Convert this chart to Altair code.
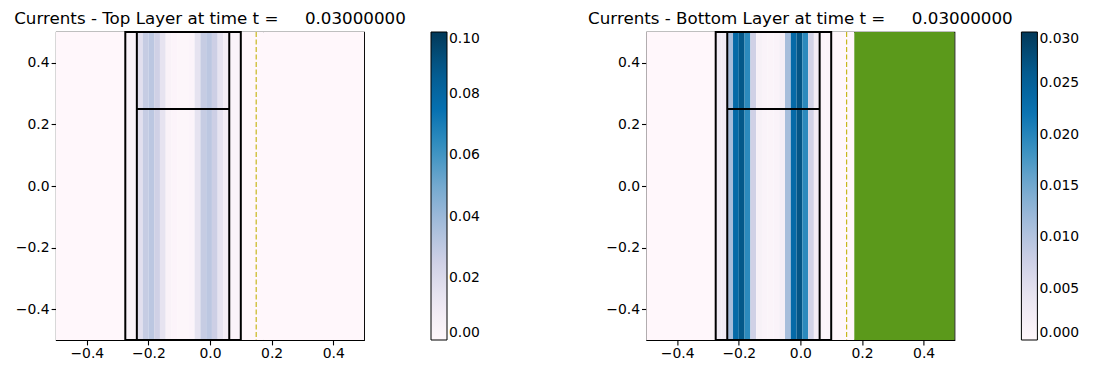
import altair as alt
import pandas as pd

# ---------------- data ----------------
# cell edges along x (stripes are uniform in y)
x_edges = [-0.5, -0.275, -0.25625, -0.2375, -0.21875, -0.2, -0.18125, -0.1625,
           -0.14375, -0.125, -0.10625, -0.0875, -0.06875, -0.05, -0.03125,
           -0.0125, 0.00625, 0.025, 0.04375, 0.0625, 0.08125, 0.1, 0.175, 0.5]

top_vals = [0.0, 0.003, 0.003, 0.017, 0.028, 0.031, 0.025, 0.015, 0.004, 0.002,
            0.001, 0.001, 0.002, 0.015, 0.028, 0.031, 0.026, 0.015, 0.008, 0.003,
            0.003, 0.0, 0.0]

bot_vals = [0.0, 0.0025, 0.0025, 0.0112, 0.0235, 0.0265, 0.0195, 0.0075, 0.0015,
            0.001, 0.0008, 0.001, 0.002, 0.0112, 0.0235, 0.0268, 0.0195, 0.0072,
            0.0025, 0.0005, 0.0005, 0.0, None]

green_span = [0.175, 0.5]
outer_box = [-0.275, 0.1]
inner_box = [-0.2375, 0.0625]
box_y = [-0.5, 0.5]
divider_y = [0.25]
dash_x = [0.15]
axis_ticks = [-0.4, -0.2, 0.0, 0.2, 0.4]
top_cbar_ticks = [0.0, 0.02, 0.04, 0.06, 0.08, 0.10]
bot_cbar_ticks = [0.0, 0.005, 0.010, 0.015, 0.020, 0.025, 0.030]
top_vmax = 0.1
bot_vmax = 0.03
NB = "\u00a0"
top_title = "Currents - Top Layer at time t =" + NB * 5 + "0.03000000"
bot_title = "Currents - Bottom Layer at time t =" + NB * 5 + "0.03000000"

PUBU = ["#fff7fb", "#ece7f2", "#d0d1e6", "#a6bddb", "#74a9cf",
        "#3690c0", "#0570b0", "#045a8d", "#023858"]
GREEN = "#5b991b"
DASH = "#c8b81e"
FONT = "DejaVu Sans"

W = 308
H = 308


def panel(vals, vmax, cticks, fmt, title, with_green):
    cells = pd.DataFrame({
        "x0": x_edges[:-1],
        "x1": x_edges[1:],
        "v": vals,
        "y0": box_y[0],
        "y1": box_y[1],
    })
    xs = alt.Scale(domain=[-0.5, 0.5], nice=False, zero=False)
    ys = alt.Scale(domain=[-0.5, 0.5], nice=False, zero=False)
    stops = [vmax * i / 8 for i in range(9)]
    cscale = alt.Scale(domain=stops, range=PUBU, interpolate="rgb", clamp=True)

    xax = alt.Axis(values=axis_ticks, format=".1f", title=None)
    yax = alt.Axis(values=axis_ticks, format=".1f", title=None)

    heat = alt.Chart(cells).transform_filter("isValid(datum.v)").mark_rect().encode(
        x=alt.X("x0:Q", scale=xs, axis=xax),
        x2="x1:Q",
        y=alt.Y("y0:Q", scale=ys, axis=yax),
        y2="y1:Q",
        color=alt.Color("v:Q", scale=cscale,
                        legend=alt.Legend(values=cticks, format=fmt, title=None,
                                          type="gradient")),
    )

    layers = [heat]
    if with_green:
        gdf = pd.DataFrame({"x0": [green_span[0]], "x1": [green_span[1]],
                            "y0": [box_y[0]], "y1": [box_y[1]]})
        green = alt.Chart(gdf).mark_rect(color=GREEN).encode(
            x=alt.X("x0:Q", scale=xs), x2="x1:Q",
            y=alt.Y("y0:Q", scale=ys), y2="y1:Q")
        layers.append(green)

    boxes = pd.DataFrame({"x0": [outer_box[0], inner_box[0]],
                          "x1": [outer_box[1], inner_box[1]],
                          "y0": [box_y[0], box_y[0]],
                          "y1": [box_y[1], box_y[1]]})
    outline = alt.Chart(boxes).mark_rect(filled=False, stroke="black",
                                         strokeWidth=2).encode(
        x=alt.X("x0:Q", scale=xs), x2="x1:Q",
        y=alt.Y("y0:Q", scale=ys), y2="y1:Q")
    layers.append(outline)

    hdf = pd.DataFrame({"x0": [inner_box[0]], "x1": [inner_box[1]], "y": divider_y})
    hline = alt.Chart(hdf).mark_rule(color="black", strokeWidth=2).encode(
        x=alt.X("x0:Q", scale=xs), x2="x1:Q", y=alt.Y("y:Q", scale=ys))
    layers.append(hline)

    ddf = pd.DataFrame({"x": dash_x})
    dash = alt.Chart(ddf).mark_rule(color=DASH, strokeWidth=1.2,
                                    strokeDash=[5, 2.5]).encode(
        x=alt.X("x:Q", scale=xs))
    layers.append(dash)

    return alt.layer(*layers).properties(
        width=W, height=H,
        title=alt.TitleParams(text=title, font=FONT, fontSize=16.7,
                              fontWeight="normal", color="black",
                              anchor="middle", frame="group", offset=3),
    )


left = panel(top_vals, top_vmax, top_cbar_ticks, ".2f", top_title, False)
right = panel(bot_vals, bot_vmax, bot_cbar_ticks, ".3f", bot_title, True)

chart = alt.hconcat(left, right, spacing=282.4, bounds="flush").resolve_scale(
    color="independent"
).properties(
    padding={"left": 5, "top": 2, "right": 5, "bottom": 5},
    background="white",
).configure_view(
    stroke="black", strokeWidth=1.1
).configure_axis(
    grid=False, domain=False, labelFont=FONT, labelFontSize=13.9,
    labelColor="black", tickColor="black", tickSize=4.9, tickWidth=1.1,
    labelPadding=2
).configure_legend(
    orient="right", offset=67, gradientLength=308, gradientThickness=16,
    direction="vertical", labelFont=FONT, labelFontSize=13.9,
    labelColor="black", labelOffset=7, gradientStrokeColor="black",
    gradientStrokeWidth=1, labelBaseline="middle", labelOverlap=False,
    padding=0
)

chart.save("out.html", embed_options={"renderer": "svg", "actions": False})
